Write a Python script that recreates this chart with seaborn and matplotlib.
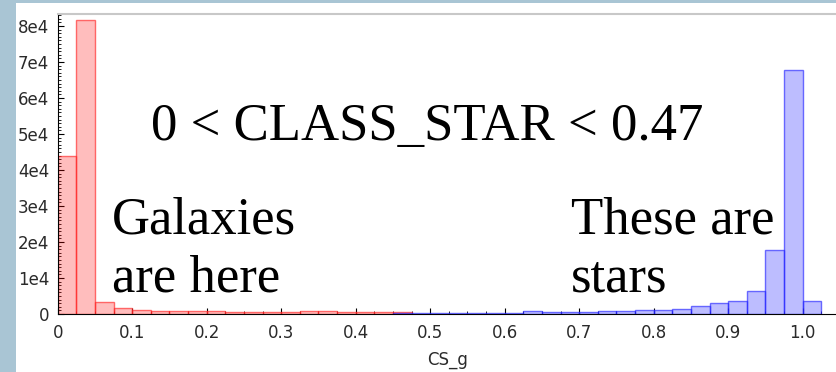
import numpy as np
import pandas as pd
import matplotlib
matplotlib.use("Agg")
import matplotlib.pyplot as plt
from matplotlib.patches import Rectangle
from matplotlib.ticker import FixedLocator, MultipleLocator
import seaborn as sns

BIN_W = 0.025
# galaxies: CLASS_STAR < 0.47, bins from 0 to 0.475
red_counts = [44000, 81700, 3250, 1650, 1250, 850, 750, 850, 850, 550,
              550, 550, 550, 950, 950, 650, 550, 550, 450]
# stars: bins from 0.45 to 1.025
blue_counts = [250, 400, 400, 400, 400, 400, 400, 750, 450, 650, 650, 750,
               750, 1000, 1100, 1400, 2300, 3150, 3700, 6400, 17800, 67700, 3700]
red_start = 0.0
blue_start = 0.45

x_ticks = [0, 0.1, 0.2, 0.3, 0.4, 0.5, 0.6, 0.7, 0.8, 0.9, 1.0]
x_labels = ["0", "0.1", "0.2", "0.3", "0.4", "0.5", "0.6", "0.7", "0.8", "0.9", "1.0"]
y_ticks = [0, 1e4, 2e4, 3e4, 4e4, 5e4, 6e4, 7e4, 8e4]
y_labels = ["0", "1e4", "2e4", "3e4", "4e4", "5e4", "6e4", "7e4", "8e4"]

sns.set_style("white")
plt.rcParams["font.family"] = ["DejaVu Sans"]

W, H = 837, 372
fig = plt.figure(figsize=(W / 100, H / 100), dpi=100)
fig.patch.set_facecolor("#a9c5d4")
fig.patches.append(Rectangle((16 / W, 0), 1 - 16 / W, 1 - 3 / H,
                             transform=fig.transFigure, facecolor="white",
                             edgecolor="none", zorder=-5))

ax = fig.add_axes([57.7 / W, 1 - 314 / H, 1 - 57.7 / W, 300 / H])
ax.set_zorder(2)
ax.set_facecolor("white")


def draw_hist(counts, start, face, edge):
    n = len(counts)
    df = pd.DataFrame({"cs": start + BIN_W * (np.arange(n) + 0.5),
                       "n": counts})
    sns.histplot(data=df, x="cs", weights="n", binwidth=BIN_W,
                 binrange=(start, start + BIN_W * n), ax=ax,
                 facecolor=face, edgecolor=edge, linewidth=1.0)


draw_hist(red_counts, red_start, (1, 0, 0, 0.26), (1, 0.15, 0.15, 0.65))
draw_hist(blue_counts, blue_start, (0, 0, 1, 0.26), (0.15, 0.15, 1, 0.65))

ax.set_xlim(0, (W - 57.7) / 745)
ax.set_ylim(0, 300 / 36 * 1e4)

ax.xaxis.set_major_locator(FixedLocator(x_ticks))
ax.set_xticklabels(x_labels)
ax.yaxis.set_major_locator(FixedLocator(y_ticks))
ax.set_yticklabels(y_labels)
ax.xaxis.set_minor_locator(MultipleLocator(0.025))
ax.yaxis.set_minor_locator(MultipleLocator(1000))
ax.tick_params(axis="both", which="both", bottom=True, left=True,
               top=False, right=False)
ax.tick_params(axis="both", which="major", direction="in", length=4,
               width=0.8, color="black", labelsize=12, labelcolor="#2a2a2a")
ax.tick_params(axis="x", which="major", pad=7)
ax.tick_params(axis="y", which="major", pad=6)
ax.tick_params(axis="both", which="minor", direction="in", length=2,
               width=0.6, color="black")

ax.set_xlabel("CS_g", fontsize=12, color="#2a2a2a", labelpad=7)
ax.set_ylabel("")

ax.spines["right"].set_visible(False)
ax.spines["top"].set_color("#c8c8c8")
ax.spines["top"].set_linewidth(1.5)
ax.spines["left"].set_color("black")
ax.spines["left"].set_linewidth(0.8)
ax.spines["bottom"].set_color("black")
ax.spines["bottom"].set_linewidth(0.8)

serif = ["Liberation Serif", "DejaVu Serif"]
fs = 38
notes = [
    (151, 140, "0 < CLASS_STAR < 0.47"),
    (112, 233, "Galaxies"),
    (112, 292, "are here"),
    (571, 233, "These are"),
    (571, 292, "stars"),
]
for px, py, s in notes:
    fig.text(px / W, 1 - py / H, s, family=serif, fontsize=fs, color="black",
             va="baseline", ha="left", zorder=10)

fig.savefig("out.png", dpi=100, facecolor=fig.get_facecolor())
